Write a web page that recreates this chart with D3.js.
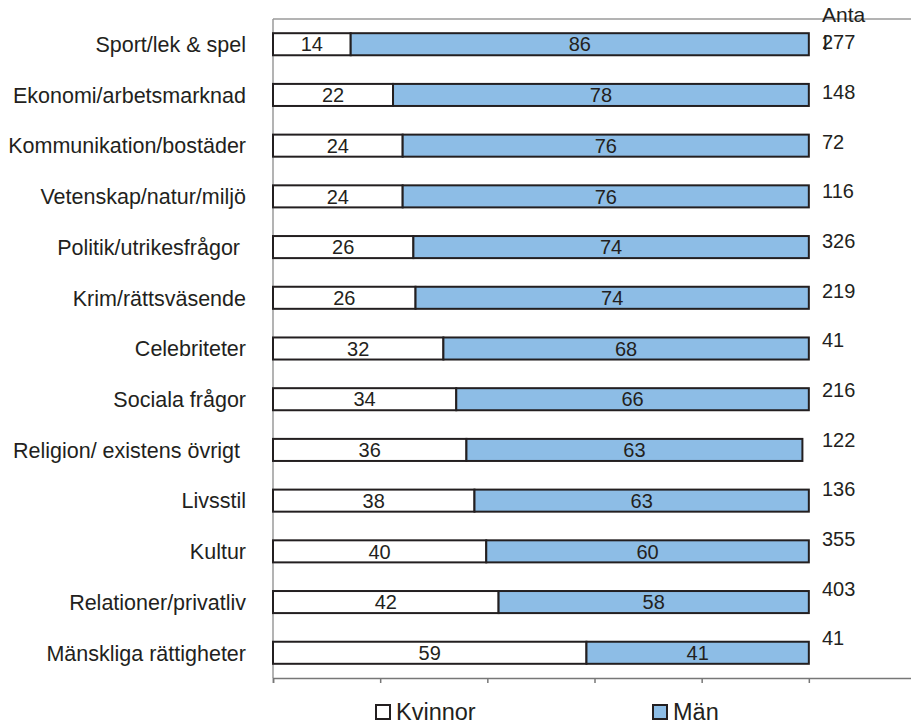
<!DOCTYPE html>
<html>
<head>
<meta charset="utf-8">
<script src="https://cdn.jsdelivr.net/npm/d3@7"></script>
<style>
  body { margin: 0; background: #fff; }
  svg text { font-family: "Liberation Sans", Arial, sans-serif; white-space: pre; }
</style>
</head>
<body>
<svg id="chart"></svg>
<script>
// andel kvinnor/män per ämne (procent), antal i högerkolumnen
const categories = [
  "Sport/lek & spel", "Ekonomi/arbetsmarknad", "Kommunikation/bostäder",
  "Vetenskap/natur/miljö", "Politik/utrikesfrågor ", "Krim/rättsväsende",
  "Celebriteter", "Sociala frågor", "Religion/ existens övrigt ", "Livsstil",
  "Kultur", "Relationer/privatliv", "Mänskliga rättigheter"
];
const kvinnor = [14.5, 22.4, 24.2, 24.2, 26.2, 26.6, 31.8, 34.2, 36.1, 37.6, 39.8, 42.1, 58.5];
const man = [85.5, 77.6, 75.8, 75.8, 73.8, 73.4, 68.2, 65.8, 62.7, 62.4, 60.2, 57.9, 41.5];
const kvinnorText = ["14", "22", "24", "24", "26", "26", "32", "34", "36", "38", "40", "42", "59"];
const manText = ["86", "78", "76", "76", "74", "74", "68", "66", "63", "63", "60", "58", "41"];
const antal = [277, 148, 72, 116, 326, 219, 41, 216, 122, 136, 355, 403, 41];
const xTicks = [0, 20, 40, 60, 80, 100, 120];

const width = 911, height = 720;
const margin = { top: 19, right: -5, bottom: 42, left: 273 };

const svg = d3.select("#chart")
    .attr("width", width)
    .attr("height", height);

const x = d3.scaleLinear()
    .domain([0, 120])
    .range([margin.left, width - margin.right]);

const y = d3.scaleBand()
    .domain(categories)
    .range([margin.top, height - margin.bottom])
    .paddingInner(0.565)
    .paddingOuter(0.28);

// antal-kolumnen sitter på ett eget rutnät, lite ovanför staplarna
const yAntal = d3.scalePoint()
    .domain(categories)
    .range([42, 638]);

const blue = "#8dbde6";
const edge = "#231f20";
const grey = "#9a9a9a";
const ink = "#231f20";

// ram: topp och vänster
svg.append("line")
    .attr("x1", x(0)).attr("x2", width)
    .attr("y1", margin.top).attr("y2", margin.top)
    .attr("stroke", grey).attr("stroke-width", 1.5);
svg.append("line")
    .attr("x1", x(0)).attr("x2", x(0))
    .attr("y1", margin.top).attr("y2", height - margin.bottom)
    .attr("stroke", grey).attr("stroke-width", 1.5);

// x-axel utan etiketter
const xAxis = svg.append("g")
    .attr("transform", `translate(0,${height - margin.bottom})`)
    .call(d3.axisBottom(x).tickValues(xTicks).tickSize(5).tickFormat(""));
xAxis.select(".domain").attr("stroke", "#777").attr("stroke-width", 1.5);
xAxis.selectAll(".tick line").attr("stroke", "#777").attr("stroke-width", 1.5);

const rows = svg.selectAll(".row")
    .data(categories)
    .enter().append("g")
    .attr("class", "row");

rows.append("rect")
    .attr("x", x(0))
    .attr("y", d => y(d))
    .attr("width", (d, i) => x(kvinnor[i]) - x(0))
    .attr("height", y.bandwidth())
    .attr("fill", "#fff")
    .attr("stroke", edge)
    .attr("stroke-width", 2);

rows.append("rect")
    .attr("x", (d, i) => x(kvinnor[i]))
    .attr("y", d => y(d))
    .attr("width", (d, i) => x(kvinnor[i] + man[i]) - x(kvinnor[i]))
    .attr("height", y.bandwidth())
    .attr("fill", blue)
    .attr("stroke", edge)
    .attr("stroke-width", 2);

rows.append("text")
    .attr("x", (d, i) => (x(0) + x(kvinnor[i])) / 2)
    .attr("y", d => y(d) + y.bandwidth() / 2)
    .attr("dy", "0.36em")
    .attr("text-anchor", "middle")
    .style("font-size", "20px")
    .attr("fill", ink)
    .text((d, i) => kvinnorText[i]);

rows.append("text")
    .attr("x", (d, i) => (x(kvinnor[i]) + x(kvinnor[i] + man[i])) / 2)
    .attr("y", d => y(d) + y.bandwidth() / 2)
    .attr("dy", "0.36em")
    .attr("text-anchor", "middle")
    .style("font-size", "20px")
    .attr("fill", ink)
    .text((d, i) => manText[i]);

// kategorinamn
rows.append("text")
    .attr("x", 246)
    .attr("y", d => y(d) + y.bandwidth() / 2)
    .attr("dy", "0.36em")
    .attr("text-anchor", "end")
    .style("font-size", "21.5px")
    .attr("fill", ink)
    .text(d => d);

// antal
rows.append("text")
    .attr("x", 822)
    .attr("y", d => yAntal(d))
    .attr("dy", "0.36em")
    .style("font-size", "20px")
    .attr("fill", ink)
    .text((d, i) => antal[i]);

// rubriken "Antal" bryts efter "Anta"
svg.append("text")
    .attr("x", 822).attr("y", 14).attr("dy", "0.36em")
    .style("font-size", "21px").attr("fill", ink)
    .text("Anta");
svg.append("text")
    .attr("x", 823).attr("y", 42).attr("dy", "0.36em")
    .style("font-size", "21px").attr("fill", ink)
    .text("l");

// legend
const legend = [
  { name: "Kvinnor", fill: "#fff", x: 376 },
  { name: "Män", fill: blue, x: 653 }
];
const lg = svg.selectAll(".legend")
    .data(legend)
    .enter().append("g")
    .attr("transform", d => `translate(${d.x},705)`);
lg.append("rect")
    .attr("width", 14).attr("height", 14)
    .attr("fill", d => d.fill)
    .attr("stroke", edge).attr("stroke-width", 2);
lg.append("text")
    .attr("x", 20).attr("y", 7).attr("dy", "0.36em")
    .style("font-size", "23.5px").attr("fill", ink)
    .text(d => d.name);
</script>
</body>
</html>
